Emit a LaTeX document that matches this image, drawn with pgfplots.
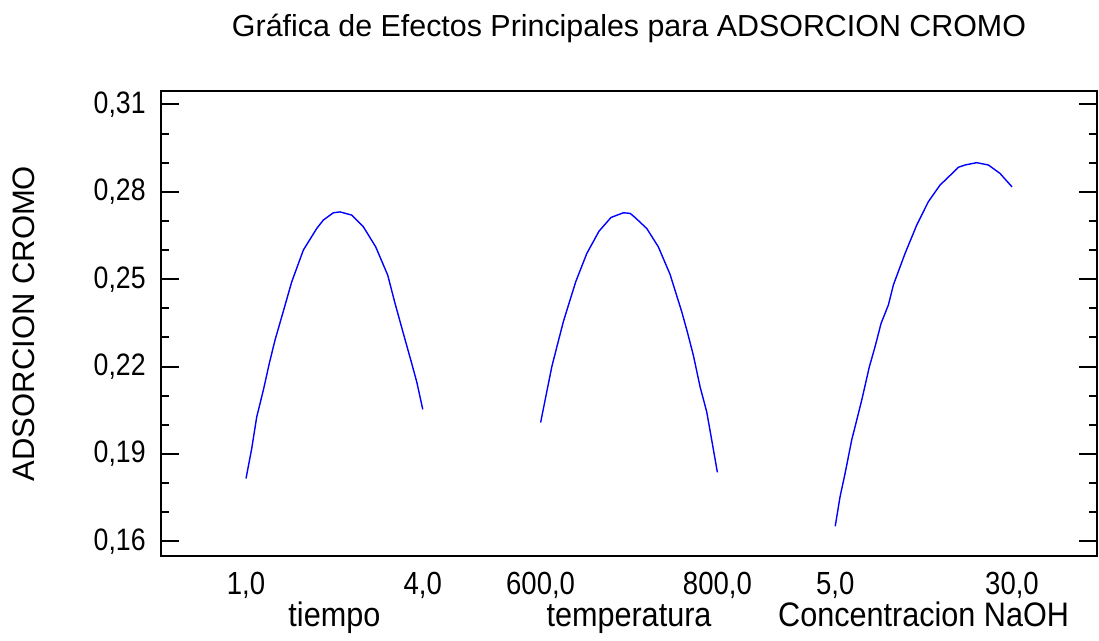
\documentclass[border=0pt]{standalone}
\usepackage{fontspec}
\setmainfont{Liberation Sans}
\newfontfamily\condlab{Liberation Sans}[FakeStretch=0.9]
\newfontfamily\condtick{Liberation Sans}[FakeStretch=0.86]
\usepackage{pgfplots}
\usepackage{pgfplotstable}
\pgfplotsset{compat=1.18}

% tiempo (h)
\pgfplotstableread{
t A
1.000 0.1816
1.097 0.1919
1.182 0.2028
1.294 0.2119
1.395 0.2211
1.492 0.2291
1.606 0.2371
1.776 0.2491
1.973 0.2600
2.200 0.2674
2.312 0.2703
2.482 0.2728
2.595 0.2731
2.794 0.2720
2.991 0.2680
3.201 0.2611
3.405 0.2514
3.529 0.2417
3.670 0.2314
3.812 0.2211
3.897 0.2148
4.000 0.2053
}\tiempo

% temperatura
\pgfplotstableread{
T A
600.0 0.2008
605.8 0.2096
612.6 0.2199
618.9 0.2274
625.7 0.2354
632.1 0.2417
639.7 0.2491
652.2 0.2588
666.1 0.2665
679.7 0.2712
693.6 0.2728
701.2 0.2726
706.8 0.2712
720.1 0.2674
733.2 0.2611
746.4 0.2517
759.7 0.2388
766.0 0.2319
772.8 0.2239
780.4 0.2131
787.9 0.2045
793.6 0.1948
800.0 0.1837
}\temperatura

% Concentracion NaOH
\pgfplotstableread{
C A
5.00 0.1652
5.68 0.1753
6.39 0.1833
7.33 0.1948
8.75 0.2085
9.82 0.2199
10.63 0.2268
11.48 0.2348
12.51 0.2411
13.22 0.2480
14.87 0.2588
16.53 0.2686
18.17 0.2766
19.82 0.2823
21.62 0.2865
22.41 0.2884
23.36 0.2892
25.01 0.2900
26.66 0.2892
28.31 0.2863
30.00 0.2817
}\naoh

\begin{document}
\begin{tikzpicture}
\begin{axis}[
  at={(0,0)}, anchor=south west,
  scale only axis, width=468pt, height=232.5pt,
  xmin=-0.443, xmax=15.443, ymin=0.155, ymax=0.3146,
  clip=false,
  axis line style={black, line width=1pt},
  xtick={1,4,6,9,11,14},
  xticklabels={{1,0},{4,0},{600,0},{800,0},{5,0},{30,0}},
  xtick style={draw=none},
  ytick={0.16,0.19,0.22,0.25,0.28,0.31},
  minor y tick num=2,
  ytick pos=both, tick align=inside,
  major tick length=9pt, minor tick length=4pt,
  ytick style={black, line width=1pt},
  minor y tick style={black, line width=1pt},
  /pgf/number format/assume math mode=true,
  y tick label style={/pgf/number format/.cd, use comma, fixed, fixed zerofill, precision=2, /tikz/.cd},
  yticklabel style={font=\condtick\fontsize{15.5}{17}\selectfont, inner sep=0pt, xshift=-7.5pt, anchor=east},
  xticklabel style={font=\condtick\fontsize{16}{18}\selectfont, inner sep=0pt, anchor=base, yshift=-19.5pt},
]
\addplot[blue, line width=0.7pt] table[x=t, y=A]{\tiempo};
\addplot[blue, line width=0.7pt] table[x expr={6+(\thisrow{T}-600)*0.015}, y=A]{\temperatura};
\addplot[blue, line width=0.7pt] table[x expr={11+(\thisrow{C}-5)*0.12}, y=A]{\naoh};

\node[anchor=base, font=\fontsize{15.2}{18}\selectfont] at (rel axis cs:0.5,1) [yshift=27.2pt] {Gráfica de Efectos Principales para ADSORCION CROMO};
\node[anchor=base, rotate=90, font=\fontsize{15.5}{18}\selectfont] at ([xshift=-63pt]rel axis cs:0,0.5) {ADSORCION CROMO};
\node[anchor=base, font=\condlab\fontsize{17}{20}\selectfont] at (axis cs:2.5,0.155) [yshift=-35.3pt] {tiempo};
\node[anchor=base, font=\condlab\fontsize{17}{20}\selectfont] at (axis cs:7.5,0.155) [yshift=-35.3pt] {temperatura};
\node[anchor=base, font=\condlab\fontsize{17}{20}\selectfont] at (axis cs:12.5,0.155) [yshift=-35.3pt] {Concentracion NaOH};
\end{axis}
\useasboundingbox (-80.5pt,-38.5pt) rectangle (469pt,278pt);
\end{tikzpicture}
\end{document}
